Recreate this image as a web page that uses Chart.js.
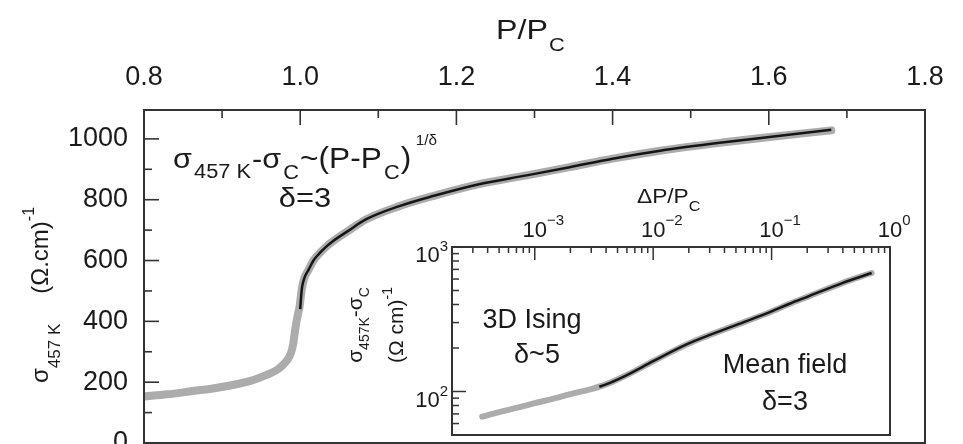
<!DOCTYPE html>
<html>
<head>
<meta charset="utf-8">
<script src="https://cdn.jsdelivr.net/npm/chart.js@4.4.1/dist/chart.umd.min.js"></script>
<style>
  body { margin: 0; background: #fff; }
  #wrap { position: relative; width: 963px; height: 444px; }
  #mainChart { position: absolute; left: 0; top: 0; }
  #insetChart { position: absolute; left: 330px; top: 180px; }
</style>
</head>
<body>
<div id="wrap">
  <canvas id="mainChart" width="963" height="444"></canvas>
  <canvas id="insetChart" width="600" height="264"></canvas>
</div>
<script>
// main panel: conductivity at 457 K vs reduced pressure
const mainGrayP = [0.80, 0.83, 0.86, 0.89, 0.92, 0.94, 0.957, 0.97, 0.978, 0.984, 0.988, 0.991, 0.993, 0.995, 0.997, 0.999,
    1.002, 1.005, 1.011, 1.017, 1.024, 1.033, 1.041, 1.06, 1.084, 1.127, 1.17, 1.229, 1.29, 1.345, 1.40, 1.461, 1.54, 1.59, 1.68];
const mainGraySigma = [153, 160, 170, 180, 194, 207, 224, 240, 257, 275, 295, 325, 363, 395, 422, 445,
    505, 540, 571, 600, 622, 645, 662, 695, 735, 779, 812, 851, 880, 907, 935, 961, 988, 1003, 1028];
const mainFitP = [1.000, 1.002, 1.005, 1.011, 1.017, 1.024, 1.033, 1.041, 1.06, 1.084, 1.127, 1.17, 1.229, 1.29, 1.345, 1.40, 1.461, 1.54, 1.59, 1.68];
const mainFitSigma = [440, 505, 540, 571, 600, 622, 645, 662, 695, 735, 779, 812, 851, 880, 907, 935, 961, 988, 1003, 1030];
const mainXTicks = [0.8, 1.0, 1.2, 1.4, 1.6, 1.8];
const mainXMinor = [0.9, 1.1, 1.3, 1.5, 1.7];
const mainYTicks = [0, 200, 400, 600, 800, 1000];
const mainYMinor = [100, 300, 500, 700, 900];

// inset: sigma - sigma_c vs (P - Pc)/Pc on log-log axes
const insetGrayDP = [3.6e-4, 5e-4, 7e-4, 1e-3, 1.5e-3, 2e-3, 3e-3, 4e-3, 6e-3, 1e-2, 2e-2, 5e-2, 0.1, 0.142, 0.2, 0.4, 0.7];
const insetGraySigma = [67, 72, 77, 83, 90, 96, 104, 112, 130, 162, 215, 288, 358, 405, 452, 565, 661];
const insetFitDP = [3.5e-3, 4e-3, 6e-3, 1e-2, 2e-2, 5e-2, 0.1, 0.142, 0.2, 0.4, 0.7];
const insetFitSigma = [108, 112, 130, 162, 215, 288, 358, 405, 452, 565, 661];
const insetXExp = [-3, -2, -1, 0];
const insetYExp = [2, 3];

const FONT = '"Liberation Sans", Arial, Helvetica, sans-serif';
const TXT = '#1a1a1a';

function toPoints(xs, ys) {
    return xs.map((x, i) => ({ x: x, y: ys[i] }));
}

// draws a run of text pieces (sub/superscripts via dy), optionally stretched horizontally
function drawRich(ctx, parts, x, y, align, sx) {
    sx = sx || 1;
    let total = 0;
    parts.forEach(p => {
        ctx.font = p.size + 'px ' + FONT;
        p.w = ctx.measureText(p.t).width;
        total += p.w + (p.gap || 0);
    });
    ctx.save();
    ctx.translate(x, y);
    ctx.scale(sx, 1);
    let cx = align === 'center' ? -total / 2 : 0;
    ctx.textAlign = 'left';
    ctx.textBaseline = 'alphabetic';
    ctx.fillStyle = TXT;
    parts.forEach(p => {
        ctx.font = p.size + 'px ' + FONT;
        ctx.fillText(p.t, cx, p.dy || 0);
        cx += p.w + (p.gap || 0);
    });
    ctx.restore();
    return total;
}

function tickLine(ctx, x1, y1, x2, y2) {
    ctx.beginPath();
    ctx.moveTo(x1, y1);
    ctx.lineTo(x2, y2);
    ctx.stroke();
}

const mainDecor = {
    id: 'mainDecor',
    afterDraw(chart) {
        const ctx = chart.ctx;
        const a = chart.chartArea;
        const xs = chart.scales.x, ys = chart.scales.y;
        ctx.save();
        ctx.strokeStyle = '#333';
        ctx.lineWidth = 2;
        ctx.strokeRect(a.left, a.top, a.right - a.left, a.bottom - a.top);
        ctx.lineWidth = 1.6;
        mainXTicks.forEach(v => { const px = xs.getPixelForValue(v); tickLine(ctx, px, a.top, px, a.top + 15); });
        mainXMinor.forEach(v => { const px = xs.getPixelForValue(v); tickLine(ctx, px, a.top, px, a.top + 8); });
        mainYTicks.forEach(v => { const py = ys.getPixelForValue(v); tickLine(ctx, a.left, py, a.left + 15, py); });
        mainYMinor.forEach(v => { const py = ys.getPixelForValue(v); tickLine(ctx, a.left, py, a.left + 8, py); });

        // top axis title
        drawRich(ctx, [{ t: 'P/P', size: 28, gap: 1 }, { t: 'C', size: 19, dy: 12 }], 496, 39, null, 1.15);

        // formula annotation
        drawRich(ctx, [
            { t: 'σ', size: 28, gap: 2 },
            { t: '457 K', size: 20, dy: 10, gap: 1 },
            { t: '-σ', size: 28, gap: 2 },
            { t: 'C', size: 20, dy: 11, gap: 1 },
            { t: '~(P-P', size: 29, gap: 2 },
            { t: 'C', size: 20, dy: 11, gap: 1 },
            { t: ')', size: 29, gap: 4 },
            { t: '1/δ', size: 14, dy: -23 }
        ], 173, 168, null, 1.09);
        drawRich(ctx, [{ t: 'δ=3', size: 28 }], 305, 207, 'center', 1.1);

        // rotated y title
        ctx.translate(48, 383);
        ctx.rotate(-Math.PI / 2);
        drawRich(ctx, [
            { t: 'σ', size: 24 },
            { t: '457 K', size: 17, dy: 12, gap: 30 },
            { t: '(Ω.cm)', size: 24 },
            { t: '-1', size: 16, dy: -14 }
        ], 0, 0);
        ctx.restore();
    }
};

new Chart(document.getElementById('mainChart').getContext('2d'), {
    type: 'scatter',
    data: {
        datasets: [{
            data: toPoints(mainGrayP, mainGraySigma),
            showLine: true,
            order: 2,
            borderColor: 'rgb(172, 172, 172)',
            borderWidth: 8,
            borderCapStyle: 'round',
            borderJoinStyle: 'round',
            pointRadius: 0,
            cubicInterpolationMode: 'monotone'
        },
        {
            data: toPoints(mainFitP, mainFitSigma),
            showLine: true,
            order: 1,
            borderColor: '#151515',
            borderWidth: 2.5,
            pointRadius: 0,
            cubicInterpolationMode: 'monotone'
        }]
    },
    options: {
        responsive: false,
        animation: false,
        layout: { padding: { left: 0, right: 38, top: 0, bottom: 1 } },
        plugins: { legend: { display: false }, tooltip: { enabled: false } },
        scales: {
            x: {
                type: 'linear',
                position: 'top',
                min: 0.8,
                max: 1.8,
                grid: { display: false, drawTicks: false },
                border: { display: false },
                ticks: {
                    stepSize: 0.2,
                    padding: 16,
                    color: TXT,
                    font: { family: FONT, size: 27 },
                    maxRotation: 0,
                    callback: v => Number(v).toFixed(1)
                },
                afterFit: s => { s.height = 110; s.paddingLeft = 0; s.paddingRight = 0; }
            },
            y: {
                type: 'linear',
                min: 0,
                max: 1095,
                grid: { display: false, drawTicks: false },
                border: { display: false },
                ticks: {
                    stepSize: 200,
                    includeBounds: false,
                    padding: 16,
                    color: TXT,
                    font: { family: FONT, size: 27 },
                    callback: v => String(v)
                },
                afterFit: s => { s.width = 144; s.paddingTop = 0; s.paddingBottom = 0; }
            }
        }
    },
    plugins: [mainDecor]
});

const insetDecor = {
    id: 'insetDecor',
    beforeDraw(chart) {
        const a = chart.chartArea;
        chart.ctx.save();
        chart.ctx.fillStyle = '#fff';
        chart.ctx.fillRect(a.left, a.top, a.right - a.left, a.bottom - a.top);
        chart.ctx.restore();
    },
    afterDraw(chart) {
        const ctx = chart.ctx;
        const a = chart.chartArea;
        const xs = chart.scales.x, ys = chart.scales.y;
        ctx.save();
        ctx.strokeStyle = '#333';
        ctx.lineWidth = 2;
        ctx.strokeRect(a.left, a.top, a.right - a.left, a.bottom - a.top);
        ctx.lineWidth = 1.5;
        // log ticks on top and left
        for (let e = -4; e <= 0; e++) {
            for (let m = 1; m <= 9; m++) {
                const v = m * Math.pow(10, e);
                if (v < xs.min * 0.999 || v > xs.max * 1.001) continue;
                const px = xs.getPixelForValue(v);
                tickLine(ctx, px, a.top, px, a.top + (m === 1 ? 13 : 6));
            }
        }
        for (let e = 1; e <= 3; e++) {
            for (let m = 1; m <= 9; m++) {
                const v = m * Math.pow(10, e);
                if (v < ys.min * 0.999 || v > ys.max * 1.001) continue;
                const py = ys.getPixelForValue(v);
                tickLine(ctx, a.left, py, a.left + (m === 1 ? 14 : 7), py);
            }
        }
        // tick labels 10^n
        insetXExp.forEach(e => {
            const px = xs.getPixelForValue(Math.pow(10, e));
            ctx.font = '22px ' + FONT;
            const w10 = ctx.measureText('10').width;
            drawRich(ctx, [{ t: '10', size: 22 }, { t: String(e).replace('-', '\u2212'), size: 15, dy: -12 }], px - w10 / 2, a.top - 10);
        });
        insetYExp.forEach(e => {
            const py = ys.getPixelForValue(Math.pow(10, e));
            ctx.font = '22px ' + FONT;
            const w = ctx.measureText('10').width;
            ctx.font = '15px ' + FONT;
            const ws = ctx.measureText(String(e)).width;
            drawRich(ctx, [{ t: '10', size: 22 }, { t: String(e), size: 15, dy: -11 }], a.left - 4 - w - ws, py + 15);
        });
        // axis title
        drawRich(ctx, [{ t: 'ΔP/P', size: 21 }, { t: 'C', size: 15, dy: 8 }], 307, 23, null, 1.08);
        // annotations
        drawRich(ctx, [{ t: '3D Ising', size: 27 }], 202, 148, 'center');
        drawRich(ctx, [{ t: 'δ~5', size: 27 }], 207, 183, 'center');
        drawRich(ctx, [{ t: 'Mean field', size: 27 }], 455, 193, 'center');
        drawRich(ctx, [{ t: 'δ=3', size: 27 }], 455, 230, 'center');
        // rotated y title, two lines
        ctx.save();
        ctx.translate(32, 145);
        ctx.rotate(-Math.PI / 2);
        drawRich(ctx, [
            { t: 'σ', size: 21 },
            { t: '457K', size: 14, dy: 7 },
            { t: '-σ', size: 21 },
            { t: 'C', size: 14, dy: 7 }
        ], 0, 0, 'center');
        ctx.restore();
        ctx.translate(73, 145);
        ctx.rotate(-Math.PI / 2);
        drawRich(ctx, [
            { t: '(Ω cm)', size: 21 },
            { t: '-1', size: 14, dy: -11 }
        ], 0, 0, 'center');
        ctx.restore();
    }
};

new Chart(document.getElementById('insetChart').getContext('2d'), {
    type: 'scatter',
    data: {
        datasets: [{
            data: toPoints(insetGrayDP, insetGraySigma),
            showLine: true,
            order: 2,
            borderColor: 'rgb(172, 172, 172)',
            borderWidth: 6,
            borderCapStyle: 'round',
            pointRadius: 0,
            cubicInterpolationMode: 'monotone'
        },
        {
            data: toPoints(insetFitDP, insetFitSigma),
            showLine: true,
            order: 1,
            borderColor: '#151515',
            borderWidth: 2.5,
            pointRadius: 0,
            cubicInterpolationMode: 'monotone'
        }]
    },
    options: {
        responsive: false,
        animation: false,
        layout: { padding: { left: 0, right: 40, top: 0, bottom: 9 } },
        plugins: { legend: { display: false }, tooltip: { enabled: false } },
        scales: {
            x: {
                type: 'logarithmic',
                position: 'top',
                min: 2e-4,
                max: 1,
                grid: { display: false, drawTicks: false },
                border: { display: false },
                ticks: { display: false },
                afterFit: s => { s.height = 67; s.paddingLeft = 0; s.paddingRight = 0; }
            },
            y: {
                type: 'logarithmic',
                min: 50,
                max: 1000,
                grid: { display: false, drawTicks: false },
                border: { display: false },
                ticks: { display: false },
                afterFit: s => { s.width = 122; s.paddingTop = 0; s.paddingBottom = 0; }
            }
        }
    },
    plugins: [insetDecor]
});
</script>
</body>
</html>
